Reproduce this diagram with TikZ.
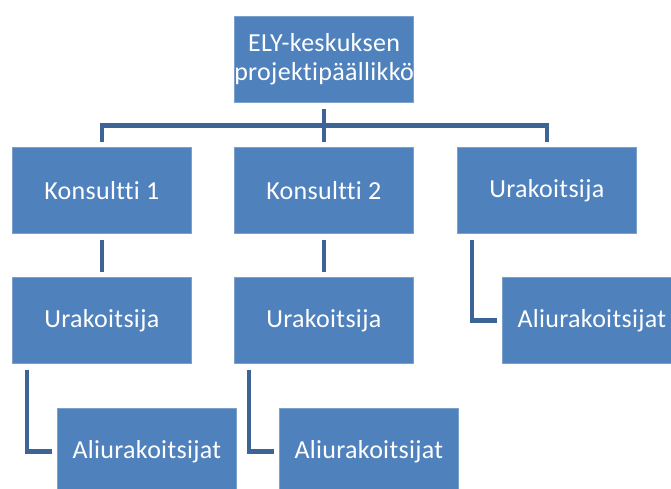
\documentclass[tikz,border=0pt]{standalone}
\usepackage{fontspec}
\setmainfont{Carlito}[Ligatures=NoCommon,LetterSpace=1.2]
\definecolor{boxblue}{RGB}{79,129,189}
\definecolor{lineblue}{RGB}{61,100,150}
\begin{document}
\begin{tikzpicture}[x=1pt,y=-1pt,
  box/.style={fill=boxblue, draw=boxblue!75!white, line width=0.6pt,
    minimum width=179pt, minimum height=86pt, inner sep=0pt,
    anchor=north west, text=white, align=center,
    font=\fontsize{26}{29}\selectfont},
  conn/.style={draw=lineblue, line width=4.5pt, line join=miter}]
\useasboundingbox (0,0) rectangle (671,488);
\clip (0,0) rectangle (671,488);
\node[box] (top) at (234,16) {ELY-keskuksen\\projektipäällikkö};
\node[box] (k1) at (12,147) {Konsultti 1};
\node[box] (k2) at (234,147) {Konsultti 2};
\node[box] (u3) at (457,147) {Urakoitsija};
\node[box] (u1) at (12,277) {Urakoitsija};
\node[box] (u2) at (234,277) {Urakoitsija};
\node[box] (a3) at (502,277) {Aliurakoitsijat};
\node[box] (a1) at (57,408) {Aliurakoitsijat};
\node[box] (a2) at (279,408) {Aliurakoitsijat};
\coordinate (bar) at (0,125.5);
\draw[conn] ([yshift=-6pt]top.south) -- (top.south |- bar);
\draw[conn] ([yshift=5pt]k1.north) -- (k1.north |- bar) -- (u3.north |- bar) -- ([yshift=5pt]u3.north);
\draw[conn] (k2.north |- bar) -- ([yshift=5pt]k2.north);
\draw[conn] ([yshift=-6pt]k1.south) -- ([yshift=5pt]u1.north);
\draw[conn] ([yshift=-6pt]k2.south) -- ([yshift=5pt]u2.north);
\draw[conn] ([xshift=15pt,yshift=-6pt]u1.south west) |- ([xshift=-5pt]a1.west);
\draw[conn] ([xshift=15pt,yshift=-6pt]u2.south west) |- ([xshift=-5pt]a2.west);
\draw[conn] ([xshift=15pt,yshift=-6pt]u3.south west) |- ([xshift=-5pt]a3.west);
\end{tikzpicture}
\end{document}
